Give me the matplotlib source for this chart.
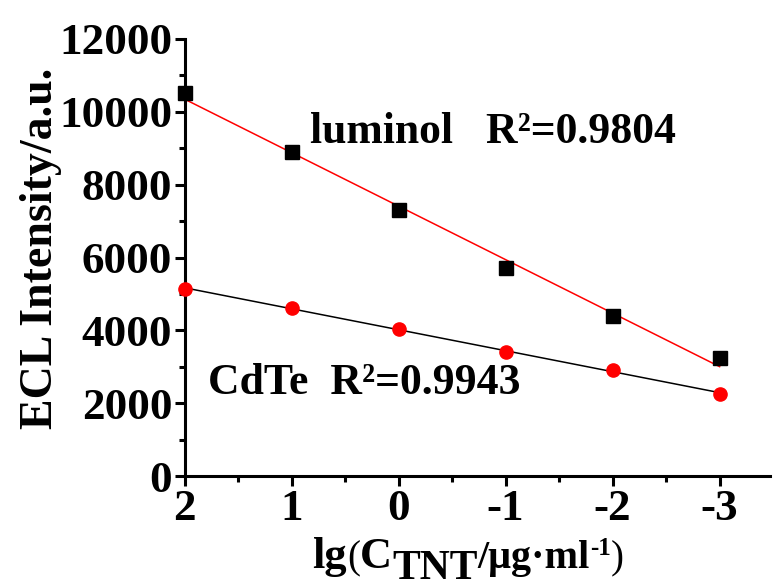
import numpy as np
import matplotlib.pyplot as plt
from matplotlib.ticker import MultipleLocator
from matplotlib.transforms import IdentityTransform

# ------------------------
# Data
# ------------------------
lg_c = [2, 1, 0, -1, -2, -3]
luminol = [10500, 8900, 7300, 5700, 4400, 3250]
cdte = [5150, 4620, 4030, 3400, 2920, 2270]
y_ticks = [0, 2000, 4000, 6000, 8000, 10000, 12000]

plt.rcParams['font.family'] = 'Liberation Serif'
plt.rcParams['font.weight'] = 'bold'
plt.rcParams['axes.unicode_minus'] = False


# ------------------------
# Helper: write a label from pieces (size / weight / vertical shift)
# ------------------------
def piece_label(fig, pieces, x_center, y_base):
    renderer = fig.canvas.get_renderer()
    texts = []
    total = 0
    for s, size, weight, dy in pieces:
        t = fig.text(0, 0, s, fontsize=size, fontweight=weight,
                     ha='left', va='baseline', transform=IdentityTransform())
        w = t.get_window_extent(renderer).width
        texts.append((t, w, dy))
        total += w
    x = x_center - total / 2
    for t, w, dy in texts:
        t.set_position((x, y_base + dy))
        x += w


fig = plt.figure(figsize=(7.73, 5.88), dpi=100)
ax = fig.add_axes([0.239, 0.190, 0.757, 0.744])

x = np.array(lg_c, dtype=float)

# linear fits
for y, fit_color in [(luminol, 'red'), (cdte, 'black')]:
    k, b = np.polyfit(x, y, 1)
    ax.plot(x, k * x + b, color=fit_color, lw=1.1, zorder=2)

ax.plot(x, luminol, 's', color='black', ms=10, zorder=3, clip_on=False)
ax.plot(x, cdte, 'o', color='red', ms=9.5, zorder=3, clip_on=False)

ax.text(0.83, 9450, 'luminol   R²=0.9804', fontsize=31.5,
        fontweight='bold', va='center', ha='left')
ax.text(1.785, 2560, 'CdTe  R²=0.9943', fontsize=31.5,
        fontweight='bold', va='center', ha='left')

ax.set_xlim(2, -3.47)
ax.set_ylim(0, 12000)
ax.set_yticks(y_ticks)
ax.set_xticks(lg_c)
ax.xaxis.set_minor_locator(MultipleLocator(0.5))
ax.yaxis.set_minor_locator(MultipleLocator(1000))

for s in ['top', 'right']:
    ax.spines[s].set_visible(False)
for s in ['left', 'bottom']:
    ax.spines[s].set_linewidth(2.2)

ax.tick_params(which='major', direction='out', length=7, width=2.2,
               labelsize=32.5, pad=2)
ax.tick_params(which='minor', direction='out', length=4, width=2.2)
for lbl in ax.get_xticklabels() + ax.get_yticklabels():
    lbl.set_fontweight('bold')

ax.set_ylabel('ECL Intensity/a.u.', fontsize=33, fontweight='bold')
ax.yaxis.set_label_coords(-0.21, 0.52)

# x label: lg(C_TNT/μg·ml^-1)
xlabel_pieces = [
    ('lg', 32, 'bold', 0),
    ('(', 28, 'normal', 0),
    ('C', 32, 'bold', 0),
    ('TNT', 30, 'bold', -11),
    ('/μg·ml', 29, 'bold', 0),
    ('-1', 18, 'bold', 13),
    (')', 28, 'normal', 0),
]
piece_label(fig, xlabel_pieces, 468, 20)

fig.savefig('out.png', dpi=100)
